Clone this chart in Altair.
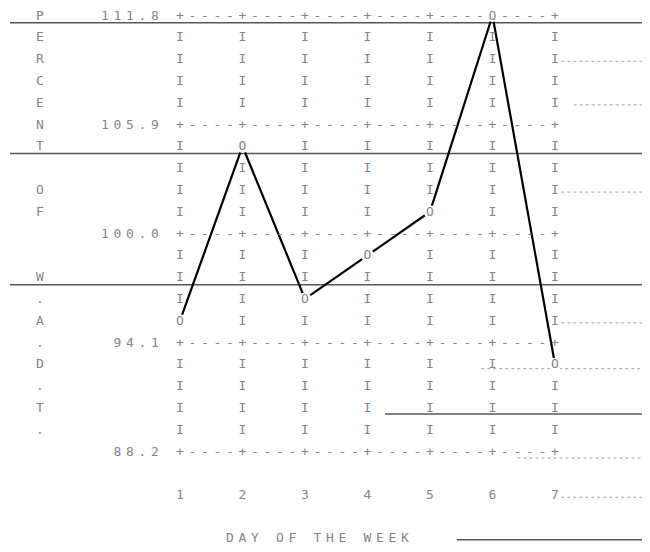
import altair as alt
import pandas as pd

# ---------------- data ----------------
days = [1, 2, 3, 4, 5, 6, 7]
pct_of_wadt = [95.28, 104.72, 96.46, 98.82, 101.18, 111.8, 92.92]
y_tick_values = [111.8, 105.9, 100.0, 94.1, 88.2]
y_tick_labels = ["111.8", "105.9", "100.0", "94.1", "88.2"]
x_tick_labels = ["1", "2", "3", "4", "5", "6", "7"]
y_axis_title = "PERCENT OF  W.A.D.T."   # one letter per printed line
x_axis_title = "DAY OF THE WEEK"

# ---------------- line-printer grid ----------------
TOP = y_tick_values[0]
STEP = (y_tick_values[0] - y_tick_values[-1]) / 20.0   # value of one printed line
CELL = 0.2                                             # one printed character, in day units

# layout of the page (pixels)
W, H = 634, 536
ROW0_PX, ROW_PX = 15.5, 21.8       # page y of first printed line, line pitch
COL0_PX, COL_PX = 180.0, 62.5      # page x of day 1, day pitch
k = ROW_PX / STEP
Y_MAX = TOP + (ROW0_PX - 8) / k
Y_MIN = Y_MAX - H / k
X_MIN = days[0] - (COL0_PX - 8) / COL_PX
X_MAX = X_MIN + W / COL_PX


def row_value(r):
    return TOP - STEP * r


point_cells = {(d, round((TOP - v) / STEP)) for d, v in zip(days, pct_of_wadt)}

chars = []
for r in range(21):
    for i, d in enumerate(days):
        major = r % 5 == 0
        if (d, r) not in point_cells:
            chars.append({"x": d, "y": row_value(r), "ch": "+" if major else "I"})
        if major and i < len(days) - 1:
            for j in range(1, 5):
                chars.append({"x": d + j * CELL, "y": row_value(r), "ch": "-"})

for d, v in zip(days, pct_of_wadt):
    chars.append({"x": d, "y": v, "ch": "O"})

for v, lab in zip(y_tick_values, y_tick_labels):
    n = len(lab)
    for j, c in enumerate(lab):
        chars.append({"x": days[0] - 2 * CELL - (n - 1 - j) * CELL, "y": v, "ch": c})

for r, c in enumerate(y_axis_title):
    if c != " ":
        chars.append({"x": days[0] - 11.2 * CELL, "y": row_value(r), "ch": c})

for d, lab in zip(days, x_tick_labels):
    chars.append({"x": d, "y": row_value(22), "ch": lab})

for j, c in enumerate(x_axis_title):
    if c != " ":
        chars.append({"x": days[0] + (4 + j) * CELL, "y": row_value(23.95), "ch": c})

chars_df = pd.DataFrame(chars)
points_df = pd.DataFrame({"day": days, "pct": pct_of_wadt})

# ruled lines / smudges of the scanned paper (row, from-x, to-x in day units)
paper_dark = pd.DataFrame([
    {"y": row_value(0.33), "x": -1.72, "x2": X_MAX},
    {"y": row_value(6.33), "x": -1.72, "x2": X_MAX},
    {"y": row_value(12.35), "x": -1.72, "x2": X_MAX},
    {"y": row_value(18.28), "x": 4.28, "x2": X_MAX},
    {"y": row_value(24.05), "x": 5.43, "x2": X_MAX},
])
paper_light = pd.DataFrame([
    {"y": row_value(2.1), "x": 7.1, "x2": X_MAX},
    {"y": row_value(4.1), "x": 7.3, "x2": X_MAX},
    {"y": row_value(8.1), "x": 7.1, "x2": X_MAX},
    {"y": row_value(14.1), "x": 7.1, "x2": X_MAX},
    {"y": row_value(16.2), "x": 5.82, "x2": X_MAX},
    {"y": row_value(20.3), "x": 6.4, "x2": X_MAX},
    {"y": row_value(22.1), "x": 7.1, "x2": X_MAX},
])

xs = alt.Scale(domain=[X_MIN, X_MAX], nice=False, zero=False)
ys = alt.Scale(domain=[Y_MIN, Y_MAX], nice=False, zero=False)

dark = alt.Chart(paper_dark).mark_rule(color="#3a3a3a", strokeWidth=1.4, opacity=0.85).encode(
    x=alt.X("x:Q", scale=xs, axis=None), x2="x2:Q", y=alt.Y("y:Q", scale=ys, axis=None)
)
light = alt.Chart(paper_light).mark_rule(color="#a0a0a0", strokeWidth=1, strokeDash=[3, 3]).encode(
    x=alt.X("x:Q", scale=xs, axis=None), x2="x2:Q", y=alt.Y("y:Q", scale=ys, axis=None)
)

line = alt.Chart(points_df).mark_line(color="black", strokeWidth=2.2).encode(
    x=alt.X("day:Q", scale=xs, axis=None), y=alt.Y("pct:Q", scale=ys, axis=None)
)
gaps = alt.Chart(points_df).mark_point(shape="circle", filled=True, color="white", opacity=1, size=170).encode(
    x=alt.X("day:Q", scale=xs, axis=None), y=alt.Y("pct:Q", scale=ys, axis=None)
)

text = alt.Chart(chars_df).mark_text(
    font="DejaVu Sans Mono", fontSize=13, color="#858585", align="center", baseline="middle"
).encode(
    x=alt.X("x:Q", scale=xs, axis=None), y=alt.Y("y:Q", scale=ys, axis=None), text="ch:N"
)

chart = alt.layer(dark, light, line, gaps, text).properties(
    width=W, height=H, padding=0, autosize="none", background="white"
).configure_view(stroke=None)

chart.save("out.html", embed_options={"renderer": "svg", "actions": False})
